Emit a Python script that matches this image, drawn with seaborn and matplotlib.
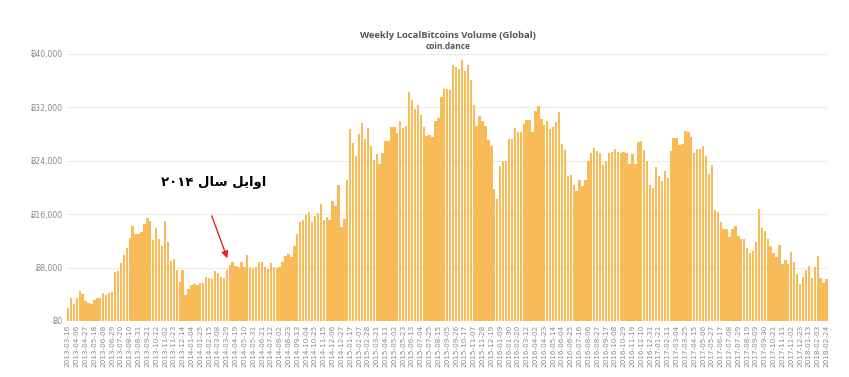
import matplotlib
matplotlib.use("Agg")
import matplotlib.pyplot as plt
import numpy as np
import pandas as pd
import seaborn as sns

# ---------------- data (weekly volume in BTC) ----------------
START_WEEK = "2013-03-16"

vol_2013 = [2000, 3400, 2500, 3400, 4500, 4000, 3000, 2750, 2500, 3150, 3400, 3500, 4150, 3900,
            4250, 4400, 7400, 7500, 8650, 9900, 11000, 12400, 14250, 13000, 13100, 13350, 14600,
            15400, 15000, 12150, 13900, 12300, 11300, 15000, 11900, 9000, 9300, 7600, 5800, 7600,
            3900, 4750]
vol_2014 = [5400, 5500, 5400, 5650, 5650, 6650, 6400, 6250, 7500, 7150, 6650, 6400, 7650, 8400,
            8900, 8250, 8050, 8900, 8150, 9900, 8150, 7900, 8050, 8900, 8900, 8050, 7750, 8650,
            8050, 7900, 8050, 8900, 9750, 10050, 9600, 11250, 13000, 14900, 15150, 15900, 16300,
            14900, 15800, 16150, 17550, 15150, 15650, 15150, 18000, 17300, 20300, 14150]
vol_2015 = [15300, 21150, 28750, 26650, 24750, 28000, 29650, 27300, 28900, 26150, 24150, 25000,
            23550, 25150, 27000, 27000, 29000, 29000, 28150, 30000, 28900, 29150, 34250, 33150,
            31750, 32400, 30800, 29000, 27650, 27900, 27500, 30000, 30400, 33500, 34750, 34750,
            34550, 38400, 38000, 37800, 39050, 37500, 38400, 36150, 32300, 29250, 30750, 29900,
            29150, 27150, 26150, 19750]
vol_2016 = [18250, 23150, 24000, 24000, 27250, 27250, 28900, 28300, 28250, 29550, 30050, 30150,
            28250, 31400, 32250, 30300, 29300, 30000, 28800, 29000, 29750, 31300, 26500, 25650,
            21750, 21900, 20400, 19550, 21150, 20150, 21150, 23900, 25150, 25900, 25400, 25150,
            23400, 23900, 25150, 25250, 25800, 25300, 25150, 25300, 25150, 23550, 25050, 23550,
            26750, 26900, 25650, 23900, 20400]
vol_2017 = [19900, 23000, 21650, 20900, 22500, 21400, 25400, 27400, 27400, 26400, 26550, 28400,
            28250, 27550, 25150, 25750, 25750, 26250, 24650, 22000, 23400, 16650, 16400, 14900,
            13750, 13750, 12550, 13850, 14250, 12750, 12250, 12250, 10900, 10150, 10550, 11900,
            16800, 13900, 13500, 12250, 11250, 10150, 9550, 11400, 8500, 9150, 8500, 10300, 8900,
            7050, 5500, 6650]
vol_2018 = [7650, 8250, 6400, 8050, 9750, 6400, 5650, 6250]

Y_TICKS = [0, 8000, 16000, 24000, 32000, 40000]
TICK_EVERY = 3

TITLE = "Weekly LocalBitcoins Volume (Global)"
SUBTITLE = "coin.dance"
# Persian note "اوایل سال ۲۰۱۴" written with Arabic presentation forms in visual order,
# because matplotlib does no Arabic shaping / right-to-left layout itself.
NOTE = "\u06F2\u06F0\u06F1\u06F4 \uFEDD\uFE8E\uFEB3 \uFEDE\uFEF3\uFE8D\uFEED\uFE8D"
NOTE_WEEK = "2014-02-22"     # week under the note text
NOTE_LEVEL = 20700
ARROW_FROM_WEEK = "2014-02-22"
ARROW_FROM_LEVEL = 15750
ARROW_TO_WEEK = "2014-03-29"
ARROW_TO_LEVEL = 9400

volume = vol_2013 + vol_2014 + vol_2015 + vol_2016 + vol_2017 + vol_2018
weeks = pd.date_range(START_WEEK, periods=len(volume), freq="7D").strftime("%Y-%m-%d").tolist()
df = pd.DataFrame({"week": weeks, "volume": volume})

# ---------------- style ----------------
sns.set_theme(style="white")
plt.rcParams["font.family"] = ["Open Sans", "DejaVu Sans"]

W, H = 849, 377
fig = plt.figure(figsize=(W / 100, H / 100), dpi=100)
fig.patch.set_facecolor("white")
ax = fig.add_axes([66.5 / W, 1 - 321 / H, 761.5 / W, (321 - 54) / H])

sns.barplot(data=df, x="week", y="volume", color="#F8BB58", saturation=1, width=0.8,
            linewidth=0, ax=ax)

n = len(volume)
ax.set_xlim(-0.5, n - 0.5)
ax.set_ylim(0, 40000)
ax.set_yticks(Y_TICKS)
ax.set_yticklabels([f"\u0243{v:,}" for v in Y_TICKS], family=["DejaVu Sans"])
pos = list(range(0, n, TICK_EVERY))
ax.set_xticks(pos)
ax.set_xticklabels([weeks[i] for i in pos], rotation=90, family=["DejaVu Sans"])
ax.tick_params(axis="y", length=0, pad=2.5, labelsize=5.6, labelcolor="#8a8a8a")
ax.tick_params(axis="x", length=0, pad=3, labelsize=5.2, labelcolor="#8a8a8a")
ax.set_xlabel("")
ax.set_ylabel("")
ax.yaxis.grid(True, color="#ececec", linewidth=0.8)
ax.set_axisbelow(True)
for s in ax.spines.values():
    s.set_visible(False)

fig.text(448 / W, 1 - 35 / H, TITLE, ha="center", va="center", fontsize=6.8,
         fontweight="bold", color="#555555")
fig.text(448 / W, 1 - 46.5 / H, SUBTITLE, ha="center", va="center", fontsize=6.0,
         fontweight="bold", color="#555555")

ax.text(weeks.index(NOTE_WEEK) + 0.7, NOTE_LEVEL, NOTE, ha="center", va="center",
        fontsize=9.5, fontweight="bold", color="black", family=["DejaVu Sans"])
ax.annotate("", xy=(weeks.index(ARROW_TO_WEEK) + 0.2, ARROW_TO_LEVEL),
            xytext=(weeks.index(ARROW_FROM_WEEK) - 0.1, ARROW_FROM_LEVEL),
            arrowprops=dict(arrowstyle="-|>", color="#e8211c", lw=1.0, mutation_scale=10,
                            shrinkA=0, shrinkB=0))

fig.savefig("out.png", dpi=100, facecolor="white")
